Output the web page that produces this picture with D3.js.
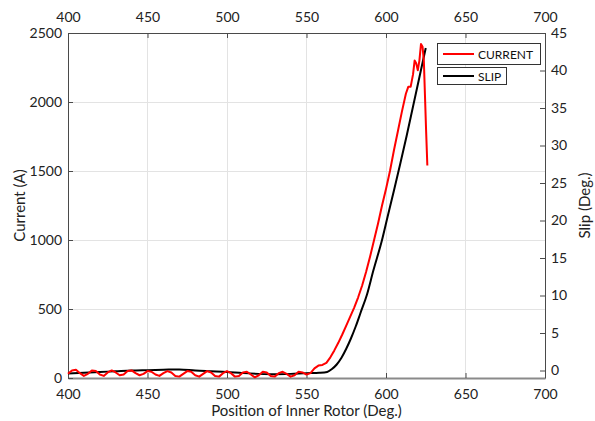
<!DOCTYPE html>
<html>
<head>
<meta charset="utf-8">
<script src="https://cdn.jsdelivr.net/npm/d3@7"></script>
<style>
  html, body { margin: 0; padding: 0; background: #fff; }
  svg { display: block; font-family: Lato, "Open Sans", sans-serif; }
</style>
</head>
<body>
<svg id="chart" width="595" height="421"></svg>
<script>
// Rotor position (deg) and measured phase current (A)
const currentPos = [
  400, 402.5, 405, 407.5, 410, 412.5, 415, 417.5, 420, 422.5, 425, 427.5, 430, 432.5, 435, 437.5,
  440, 442.5, 445, 447.5, 450, 452.5, 455, 457.5, 460, 462.5, 465, 467.5, 470, 472.5, 475, 477.5,
  480, 482.5, 485, 487.5, 490, 492.5, 495, 497.5, 500, 502.5, 505, 507.5, 510, 512.5, 515, 517.5,
  520, 522.5, 525, 527.5, 530, 532.5, 535, 537.5, 540, 542.5, 545, 547.5, 550, 552.5, 555, 557.5,
  560, 562.5, 565, 567.5, 570, 572.5, 575, 577.5, 580, 582.5, 585, 587.5, 590, 592.5, 595, 597.5,
  600, 602.5, 605, 607.5, 610, 612.5, 614, 615.5, 617, 618, 619, 620, 621, 622, 623, 623.8,
  624.5, 625.2, 626
];
const currentVal = [
  30, 55, 60, 35, 15, 30, 55, 50, 25, 15, 40, 55, 40, 20, 25, 50,
  55, 35, 20, 30, 50, 45, 25, 15, 35, 50, 40, 15, 10, 30, 50, 45,
  20, 10, 30, 50, 40, 15, 10, 35, 50, 35, 10, 15, 40, 45, 25, 5,
  20, 45, 40, 15, 10, 35, 45, 30, 10, 20, 45, 40, 25, 35, 70, 90,
  95, 110, 150, 200, 255, 315, 380, 445, 510, 585, 670, 770, 880, 1000, 1120, 1250,
  1370, 1500, 1650, 1790, 1930, 2060, 2110, 2110, 2200, 2300, 2280, 2230, 2300, 2420, 2400, 2300,
  2050, 1800, 1540
];

// Rotor position (deg) and slip angle (deg)
const slipPos = [
  400, 410, 420, 430, 440, 450, 460, 470, 480, 490, 500, 510, 520, 530, 540, 550,
  558, 563, 566, 569, 572, 575, 578, 581, 584, 588, 592, 597.5, 601, 605, 609, 613,
  617, 621, 625
];
const slipVal = [
  -0.4, -0.3, -0.2, -0.1, 0, 0.05, 0.1, 0.15, 0, -0.1, -0.2, -0.35, -0.45, -0.5, -0.45, -0.35,
  -0.3, -0.2, 0.2, 0.8, 1.7, 2.9, 4.3, 5.9, 7.7, 10.1, 13.3, 17.4, 20.5, 24.0, 27.6, 31.3,
  35.2, 39.1, 43.0
];

const xTicks = [400, 450, 500, 550, 600, 650, 700];
const yLeftTicks = [0, 500, 1000, 1500, 2000, 2500];
const yRightTicks = [0, 5, 10, 15, 20, 25, 30, 35, 40, 45];

const seriesNames = ["CURRENT", "SLIP"];
const seriesColors = ["#ff0000", "#000000"];

const W = 595, H = 421;
const m = { left: 68, right: 50, top: 33, bottom: 43 };
const pw = W - m.left - m.right, ph = H - m.top - m.bottom;

const svg = d3.select("#chart");
const g = svg.append("g").attr("transform", `translate(${m.left},${m.top})`);

const x = d3.scaleLinear().domain([400, 700]).range([0, pw]);
const yL = d3.scaleLinear().domain([0, 2500]).range([ph, 0]);
const yR = d3.scaleLinear().domain([-1, 45]).range([ph, 0]);

// grid
g.append("g").selectAll("line").data(xTicks.slice(1, -1)).join("line")
  .attr("x1", d => x(d)).attr("x2", d => x(d)).attr("y1", 0).attr("y2", ph)
  .attr("stroke", "#e3e3e3").attr("stroke-width", 1).attr("shape-rendering", "crispEdges");
g.append("g").selectAll("line").data(yLeftTicks.slice(1, -1)).join("line")
  .attr("x1", 0).attr("x2", pw).attr("y1", d => yL(d)).attr("y2", d => yL(d))
  .attr("stroke", "#e3e3e3").attr("stroke-width", 1).attr("shape-rendering", "crispEdges");

function styleAxis(sel) {
  sel.select(".domain").attr("stroke", "#4a4a4a").attr("stroke-width", 1);
  sel.selectAll(".tick line").attr("stroke", "#4a4a4a");
  sel.selectAll(".tick text").attr("fill", "#222").style("font-size", "14px")
    .style("font-family", "Lato, 'Open Sans', sans-serif");
}

const fmt = d3.format("d");

// axes (ticks point inward)
const axB = g.append("g").attr("transform", `translate(0,${ph})`)
  .call(d3.axisBottom(x).tickValues(xTicks).tickFormat(fmt).tickSizeInner(-5).tickSizeOuter(0).tickPadding(11));
styleAxis(axB);
axB.select(".domain").attr("stroke", "#8a8a8a").attr("stroke-width", 2);

const axT = g.append("g")
  .call(d3.axisTop(x).tickValues(xTicks).tickFormat(fmt).tickSizeInner(-5).tickSizeOuter(0).tickPadding(11));
styleAxis(axT);

const axL = g.append("g")
  .call(d3.axisLeft(yL).tickValues(yLeftTicks).tickFormat(fmt).tickSizeInner(-5).tickSizeOuter(0).tickPadding(6));
styleAxis(axL);

const axR = g.append("g").attr("transform", `translate(${pw},0)`)
  .call(d3.axisRight(yR).tickValues(yRightTicks).tickFormat(fmt).tickSizeInner(-5).tickSizeOuter(0).tickPadding(6));
styleAxis(axR);

// series
const lineCur = d3.line().x((d, i) => x(currentPos[i])).y(d => yL(d));
const lineSlip = d3.line().x((d, i) => x(slipPos[i])).y(d => yR(d)).curve(d3.curveMonotoneX);

g.append("path").datum(slipVal).attr("d", lineSlip)
  .attr("fill", "none").attr("stroke", seriesColors[1]).attr("stroke-width", 2)
  .attr("stroke-linejoin", "round");
g.append("path").datum(currentVal).attr("d", lineCur)
  .attr("fill", "none").attr("stroke", seriesColors[0]).attr("stroke-width", 2)
  .attr("stroke-linejoin", "round");

// axis titles
svg.append("text").attr("x", m.left + pw / 2).attr("y", 416).attr("text-anchor", "middle")
  .style("font-size", "15px").attr("fill", "#222").text("Position of Inner Rotor (Deg.)");
svg.append("text").attr("transform", `translate(25,${m.top + ph / 2}) rotate(-90)`)
  .attr("text-anchor", "middle").style("font-size", "15px").attr("fill", "#222").text("Current (A)");
svg.append("text").attr("transform", `translate(590,${m.top + ph / 2}) rotate(-90)`)
  .attr("text-anchor", "middle").style("font-size", "15px").attr("fill", "#222").text("Slip (Deg.)");

// legend: one framed entry per series
const legendBoxes = [
  { x: 437, y: 43, w: 103, h: 21 },
  { x: 437, y: 67, w: 69, h: 17 }
];
seriesNames.forEach((name, i) => {
  const b = legendBoxes[i];
  const lg = svg.append("g");
  lg.append("rect").attr("x", b.x + 0.5).attr("y", b.y + 0.5).attr("width", b.w).attr("height", b.h)
    .attr("fill", "#fff").attr("stroke", "#333").attr("stroke-width", 1);
  const cy = b.y + b.h / 2 + 0.5;
  lg.append("line").attr("x1", b.x + 6).attr("x2", b.x + 37).attr("y1", cy).attr("y2", cy)
    .attr("stroke", seriesColors[i]).attr("stroke-width", 2);
  lg.append("text").attr("x", b.x + 41).attr("y", cy + 4.5).style("font-size", "12px")
    .attr("fill", "#111").text(name);
});
</script>
</body>
</html>
